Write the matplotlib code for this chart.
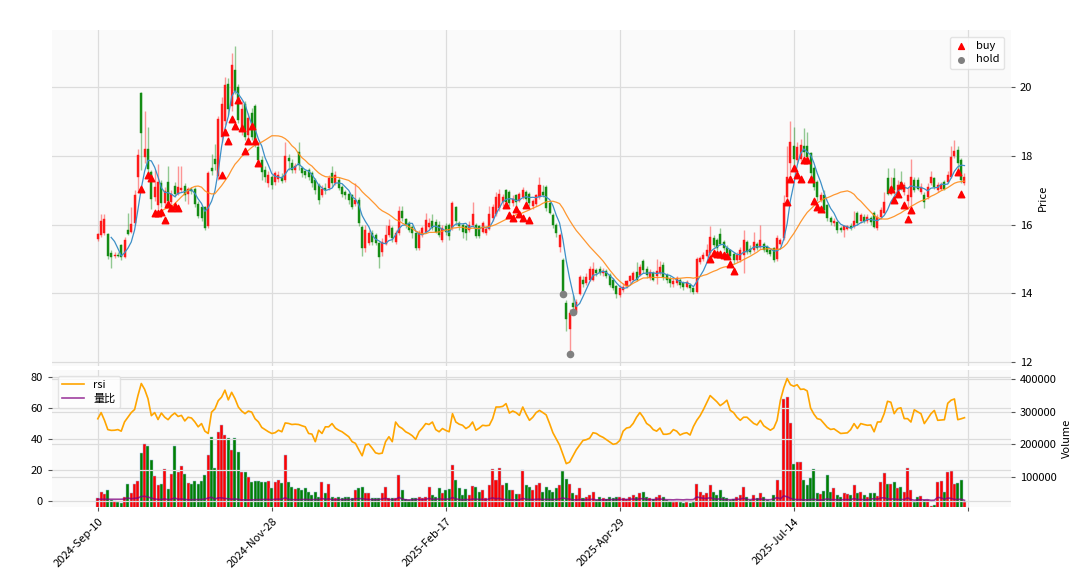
import matplotlib
matplotlib.use('Agg')
import matplotlib.pyplot as plt
import numpy as np
import pandas as pd
from matplotlib.ticker import ScalarFormatter

plt.rcParams['font.family'] = ['Noto Sans CJK SC', 'DejaVu Sans']
plt.rcParams['axes.unicode_minus'] = False

tick_pos = [0, 52, 104, 156, 208, 260]
tick_labels = ['2024-Sep-10', '2024-Nov-28', '2025-Feb-17', '2025-Apr-29', '2025-Jul-14', '']

opens = [
    15.57, 15.70, 15.76, 15.72, 15.17, 15.10, 15.13, 15.40, 15.07, 15.85,
    15.80, 16.04, 17.39, 19.83, 17.97, 18.20, 17.54, 16.80, 16.57, 17.22,
    16.62, 17.25, 16.66, 17.12, 16.88, 17.00, 17.12, 16.88, 17.05, 17.05,
    16.60, 16.50, 16.50, 15.95, 17.65, 17.90, 17.42, 18.55, 19.00, 20.10,
    19.45, 20.50, 20.00, 18.80, 19.50, 18.60, 19.25, 19.45, 18.27, 17.88,
    17.60, 17.20, 17.39, 17.25, 17.33, 17.40, 17.30, 17.95, 17.80, 17.60,
    18.12, 17.65, 17.55, 17.59, 17.49, 17.30, 17.15, 16.85, 17.08, 17.06,
    17.50, 17.22, 17.30, 17.10, 16.95, 16.90, 16.86, 16.60, 16.73, 15.92,
    15.31, 15.47, 15.75, 15.70, 15.46, 15.20, 15.45, 15.70, 15.90, 15.50,
    15.75, 16.40, 16.15, 16.05, 15.94, 15.75, 15.31, 15.70, 15.80, 15.93,
    16.12, 16.08, 15.98, 15.55, 15.95, 16.00, 15.90, 16.50, 16.05, 16.00,
    15.95, 15.85, 16.00, 16.00, 15.95, 15.80, 15.75, 15.88, 16.20, 16.30,
    16.47, 16.66, 17.00, 16.95, 16.62, 16.85, 16.70, 16.80, 16.95, 16.90,
    16.55, 16.60, 16.80, 16.95, 17.10, 16.63, 16.28, 16.00, 15.36, 14.97,
    13.71, 12.98, 13.71, 13.46, 13.99, 14.40, 14.30, 14.40, 14.40, 14.67,
    14.70, 14.58, 14.64, 14.55, 14.40, 14.21, 13.95, 14.10, 14.22, 14.35,
    14.40, 14.62, 14.55, 14.95, 14.72, 14.45, 14.58, 14.52, 14.60, 14.83,
    14.53, 14.43, 14.28, 14.30, 14.38, 14.30, 14.20, 14.24, 14.15, 14.03,
    14.92, 15.00, 15.10, 15.17, 15.61, 15.55, 15.74, 15.50, 15.32, 15.26,
    15.16, 14.98, 14.98, 15.12, 15.50, 15.30, 15.27, 15.45, 15.36, 15.45,
    15.36, 15.26, 15.31, 14.99, 15.45, 15.60, 16.80, 17.78, 18.30, 17.88,
    17.90, 18.28, 18.30, 18.07, 17.64, 17.25, 16.72, 16.86, 16.57, 16.19,
    16.05, 16.07, 15.90, 15.85, 15.88, 15.97, 15.95, 16.33, 16.12, 16.23,
    16.12, 16.18, 16.33, 15.89, 16.22, 16.33, 17.35, 16.90, 17.35, 16.95,
    17.25, 16.95, 16.70, 16.80, 17.30, 17.30, 16.95, 16.86, 16.81, 17.20,
    17.35, 17.00, 17.05, 17.25, 17.25, 17.39, 18.00, 18.17, 17.88, 17.20,
]

highs = [
    15.75, 16.30, 16.32, 15.75, 15.25, 15.20, 15.20, 15.45, 15.65, 16.33,
    16.50, 17.00, 18.20, 19.87, 19.30, 18.85, 17.60, 17.60, 17.75, 17.30,
    17.10, 17.70, 17.00, 17.25, 17.70, 17.70, 17.20, 17.10, 17.10, 17.10,
    16.70, 16.55, 16.55, 17.55, 18.05, 18.35, 19.15, 19.70, 20.30, 20.25,
    21.00, 21.20, 20.10, 19.60, 19.60, 19.25, 19.40, 19.50, 18.40, 18.00,
    17.70, 17.55, 17.45, 17.55, 17.55, 17.50, 18.40, 18.05, 17.90, 17.80,
    18.40, 17.70, 17.60, 17.65, 17.55, 17.35, 17.20, 17.15, 17.20, 17.45,
    17.70, 17.55, 17.40, 17.15, 17.00, 16.95, 16.90, 17.20, 16.80, 16.00,
    16.00, 15.85, 15.85, 15.75, 15.50, 15.60, 16.00, 16.15, 15.95, 15.85,
    16.55, 16.55, 16.20, 16.10, 16.00, 15.80, 15.85, 15.95, 16.35, 16.20,
    16.30, 16.15, 16.10, 16.00, 16.05, 16.05, 16.70, 16.55, 16.10, 16.05,
    16.00, 16.10, 16.66, 16.05, 16.00, 16.10, 15.95, 16.55, 16.60, 16.95,
    17.05, 16.90, 17.05, 17.00, 16.85, 16.90, 16.95, 17.10, 17.00, 16.95,
    16.75, 16.90, 17.39, 17.15, 17.15, 16.70, 16.35, 16.05, 15.75, 15.02,
    13.80, 13.55, 13.95, 13.85, 14.55, 14.50, 14.60, 14.80, 14.90, 14.75,
    14.80, 14.75, 14.70, 14.60, 14.45, 14.25, 14.25, 14.30, 14.40, 14.55,
    14.65, 14.90, 14.85, 15.00, 14.80, 14.70, 14.65, 15.00, 14.95, 14.90,
    14.60, 14.50, 14.45, 14.50, 14.45, 14.35, 14.40, 14.30, 14.20, 15.05,
    15.10, 15.20, 15.45, 15.95, 15.70, 15.60, 15.90, 15.55, 15.40, 15.30,
    15.20, 15.20, 15.35, 15.85, 15.55, 15.40, 15.80, 15.50, 16.00, 15.50,
    15.40, 15.30, 15.35, 15.70, 15.62, 16.85, 18.30, 19.00, 18.85, 18.40,
    18.50, 18.80, 18.70, 18.10, 17.70, 17.30, 16.95, 17.00, 16.60, 16.25,
    16.20, 16.10, 15.95, 16.00, 16.00, 16.05, 16.40, 16.40, 16.35, 16.30,
    16.30, 16.25, 16.40, 16.30, 16.50, 16.95, 17.65, 17.40, 17.65, 17.30,
    17.55, 17.25, 17.10, 17.90, 17.40, 17.40, 17.20, 16.95, 17.20, 17.55,
    17.40, 17.25, 17.25, 17.30, 17.55, 18.30, 18.45, 18.30, 17.95, 17.50,
]

lows = [
    15.52, 15.65, 15.70, 15.00, 14.75, 15.04, 15.05, 14.98, 15.03, 15.70,
    15.75, 16.00, 16.95, 17.60, 17.80, 17.40, 16.45, 16.70, 16.45, 16.50,
    16.55, 16.60, 16.60, 16.80, 16.85, 16.95, 16.70, 16.60, 16.90, 16.50,
    16.20, 16.10, 15.85, 15.90, 17.45, 17.60, 17.30, 18.40, 18.90, 19.20,
    19.30, 19.80, 18.95, 18.60, 18.45, 18.50, 18.45, 18.25, 17.70, 17.30,
    17.25, 17.10, 17.05, 17.15, 17.25, 17.20, 17.25, 17.60, 17.50, 17.50,
    17.60, 17.40, 17.35, 17.30, 17.10, 16.90, 16.60, 16.80, 16.90, 17.00,
    17.10, 17.15, 17.00, 16.80, 16.75, 16.60, 16.45, 16.55, 15.95, 15.10,
    15.20, 15.40, 15.40, 15.40, 14.75, 15.10, 15.40, 15.65, 15.50, 15.45,
    15.70, 16.10, 15.90, 15.80, 15.60, 15.25, 15.25, 15.65, 15.75, 15.85,
    15.85, 15.75, 15.65, 15.50, 15.70, 15.55, 15.85, 16.00, 15.85, 15.60,
    15.55, 15.80, 15.95, 15.60, 15.60, 15.75, 15.70, 15.85, 16.10, 16.25,
    16.40, 16.55, 16.60, 16.55, 16.55, 16.55, 16.65, 16.75, 16.70, 16.55,
    16.45, 16.55, 16.75, 16.80, 16.40, 16.30, 15.90, 15.65, 15.20, 13.92,
    12.90, 12.30, 13.45, 13.40, 13.95, 14.20, 14.25, 14.35, 14.35, 14.50,
    14.55, 14.50, 14.45, 14.20, 14.10, 13.88, 13.90, 14.05, 14.15, 14.30,
    14.35, 14.35, 14.50, 14.60, 14.45, 14.40, 14.35, 14.28, 14.55, 14.40,
    14.30, 14.20, 14.20, 14.25, 14.15, 14.10, 14.15, 14.05, 13.98, 14.00,
    14.85, 14.95, 15.05, 15.10, 15.35, 15.25, 15.40, 15.25, 15.10, 15.00,
    14.85, 14.90, 14.90, 14.60, 15.15, 15.15, 15.20, 15.25, 15.30, 15.20,
    15.15, 15.10, 14.90, 14.95, 15.40, 15.55, 16.70, 17.45, 17.60, 17.80,
    17.85, 18.00, 17.90, 17.40, 17.00, 16.70, 16.65, 16.35, 16.10, 16.00,
    15.95, 15.75, 15.78, 15.63, 15.85, 15.85, 15.90, 16.00, 16.05, 16.05,
    16.05, 16.00, 15.90, 15.85, 16.15, 16.30, 16.85, 16.85, 16.90, 16.90,
    17.00, 16.85, 16.45, 16.50, 16.95, 17.00, 16.90, 16.48, 16.75, 17.15,
    17.05, 16.95, 17.00, 17.00, 17.20, 17.35, 17.95, 17.50, 17.20, 17.15,
]

closes = [
    15.72, 16.12, 16.15, 15.09, 15.07, 15.13, 15.11, 15.05, 15.55, 15.74,
    16.03, 16.86, 18.02, 18.66, 18.20, 17.63, 16.76, 17.10, 17.25, 16.62,
    16.97, 16.70, 16.90, 16.88, 17.10, 17.08, 16.85, 17.05, 16.98, 16.60,
    16.25, 16.20, 15.90, 17.50, 17.55, 17.75, 19.08, 19.50, 20.05, 19.35,
    20.65, 19.90, 19.05, 19.35, 18.55, 19.10, 18.55, 18.36, 17.88, 17.54,
    17.40, 17.45, 17.14, 17.49, 17.45, 17.26, 18.00, 17.85, 17.60, 17.70,
    17.73, 17.50, 17.45, 17.40, 17.20, 17.00, 16.71, 17.05, 17.00, 17.35,
    17.20, 17.45, 17.06, 16.90, 16.85, 16.72, 16.52, 16.72, 16.05, 15.31,
    15.84, 15.77, 15.50, 15.47, 15.07, 15.50, 15.70, 15.95, 15.60, 15.75,
    16.41, 16.20, 15.98, 15.85, 15.75, 15.31, 15.75, 15.90, 16.13, 16.05,
    15.90, 15.80, 15.70, 15.90, 15.80, 15.66, 16.62, 16.10, 15.95, 15.78,
    15.75, 16.00, 16.30, 15.66, 15.66, 16.05, 15.88, 16.32, 16.50, 16.80,
    16.90, 16.80, 16.66, 16.62, 16.75, 16.66, 16.90, 17.00, 16.76, 16.62,
    16.70, 16.85, 17.15, 16.85, 16.47, 16.34, 15.98, 15.75, 15.70, 14.05,
    13.27, 13.42, 13.61, 13.75, 14.48, 14.28, 14.48, 14.70, 14.70, 14.58,
    14.60, 14.66, 14.50, 14.25, 14.15, 13.97, 14.15, 14.20, 14.35, 14.50,
    14.58, 14.40, 14.77, 14.67, 14.53, 14.63, 14.40, 14.66, 14.78, 14.48,
    14.40, 14.30, 14.36, 14.44, 14.24, 14.20, 14.33, 14.15, 14.05, 14.99,
    15.02, 15.12, 15.26, 15.65, 15.40, 15.32, 15.45, 15.32, 15.18, 15.08,
    14.98, 15.12, 15.27, 15.55, 15.21, 15.21, 15.50, 15.31, 15.55, 15.27,
    15.21, 15.16, 14.97, 15.60, 15.55, 16.62, 17.40, 18.41, 17.90, 18.27,
    18.33, 18.10, 17.97, 17.49, 17.10, 16.81, 16.86, 16.42, 16.19, 16.09,
    16.12, 15.83, 15.84, 15.95, 15.95, 15.90, 16.12, 16.04, 16.27, 16.12,
    16.23, 16.08, 15.94, 16.22, 16.42, 16.67, 16.90, 17.10, 17.00, 17.15,
    17.10, 17.15, 16.85, 17.40, 17.00, 17.05, 17.10, 16.67, 17.10, 17.39,
    17.10, 17.15, 17.15, 17.05, 17.45, 17.97, 18.15, 17.78, 17.30, 17.39,
]

volumes = [
    34900, 55100, 47100, 60300, 29700, 26600, 22600, 19600, 39800, 77800,
    52000, 77800, 87900, 174500, 200200, 195000, 152100, 103200, 75600, 77800,
    123700, 62400, 109300, 195000, 114500, 133800, 108400, 80800, 77800, 87900,
    77800, 87900, 106200, 167400, 223500, 128600, 238800, 259300, 228700, 218600,
    182700, 218600, 177500, 116300, 116300, 101000, 85700, 87900, 89400, 85700,
    84700, 88000, 65500, 85700, 90000, 80800, 167400, 85700, 70400, 62400,
    65500, 60300, 65500, 55100, 45000, 55100, 39800, 84700, 52000, 77800,
    39800, 36800, 39800, 34900, 39800, 39800, 34900, 60300, 65500, 68500,
    52000, 52000, 34900, 34900, 34900, 52000, 70400, 34900, 34900, 34900,
    106200, 60300, 31800, 29700, 34900, 36800, 39800, 34900, 39800, 69500,
    45000, 39800, 65500, 52000, 60300, 62400, 136800, 90000, 65500, 45000,
    62400, 45000, 73400, 70400, 55100, 60300, 34900, 75600, 123700, 91900,
    128600, 75600, 80800, 60300, 60300, 49000, 49000, 121600, 75600, 70400,
    60000, 75000, 82000, 55000, 70000, 60000, 55000, 65000, 75000, 120000,
    95000, 80000, 50000, 45000, 65000, 35000, 40000, 45000, 55000, 30000,
    38000, 35000, 32000, 40000, 35000, 38000, 40000, 35000, 32000, 40000,
    45000, 38000, 50000, 55000, 40000, 35000, 32000, 40000, 45000, 38000,
    30000, 28000, 25000, 28000, 25000, 22000, 25000, 22000, 24000, 80000,
    55000, 45000, 50000, 75000, 55000, 45000, 60000, 40000, 35000, 30000,
    32000, 40000, 45000, 70000, 40000, 30000, 45000, 35000, 50000, 38000,
    30000, 28000, 45000, 90000, 60000, 340000, 345000, 265000, 140000, 145000,
    147000, 91000, 75600, 96100, 123700, 50200, 47100, 57200, 106200, 55100,
    65500, 45000, 40000, 50000, 48000, 45000, 75600, 50000, 55000, 45000,
    40000, 50000, 52000, 41900, 85700, 111400, 77800, 77800, 85700, 65500,
    70400, 55100, 128600, 60300, 24500, 39800, 40700, 29700, 29700, 12000,
    15000, 85700, 89400, 55100, 115000, 120000, 80000, 82000, 90000, 25000,
]

rsi = [
    53, 57, 52, 46, 45.5, 45.6, 46, 45, 51, 54,
    57, 59, 68, 75.8, 72, 66, 55, 57, 52.5, 56.7,
    54, 52.4, 55, 56.7, 54.5, 55.2, 51.6, 54, 53.5, 51,
    47.8, 49.9, 45, 43.5, 57.3, 59.4, 64.7, 67, 71.5, 65.2,
    70.1, 66, 60.6, 58, 56.3, 58, 57.3, 53, 51, 47.4,
    46, 44.6, 43.5, 44, 45.6, 44.6, 50.3, 50, 49.3, 49.5,
    49.3, 48.5, 47.8, 43.5, 43.1, 38.2, 45.6, 43.5, 47.8, 47.8,
    49.9, 47, 45.6, 44.6, 43, 41.4, 38.2, 37.1, 33, 29.1,
    36.1, 36.7, 34, 31, 30.4, 30.8, 38.2, 41.4, 38.2, 50.9,
    48, 46.7, 44.6, 43.5, 42, 39.7, 44.6, 47, 49.9, 49.3,
    50.9, 46, 44.6, 46.7, 45.5, 44.6, 56.3, 50.9, 49.5, 48.8,
    46.7, 48, 50.9, 45.6, 47, 48.8, 48.5, 48.8, 53.1, 60.6,
    60.6, 61, 62.8, 56.7, 58, 57, 55.2, 60.6, 56, 52,
    54, 57, 58.4, 57, 55.5, 50, 44, 40, 36, 30,
    24, 25, 29, 33, 36, 39, 39.5, 40.5, 44, 43.5,
    42, 41, 39.5, 38, 36.5, 37, 39, 45, 47, 47.5,
    50, 54, 57, 54, 50, 48.5, 46, 45, 47, 43,
    43, 43.5, 46, 45, 42.5, 43.5, 44, 42.5, 48, 52,
    55, 59, 63.5, 68, 66, 64, 61.5, 63, 65, 58.4,
    57, 54, 52, 54, 54, 52, 50, 49, 52, 48.5,
    47, 45.6, 47, 52, 65, 73, 79, 75, 74, 75,
    72, 72.2, 71, 60, 56, 53.1, 52.5, 50, 47.5, 46.1,
    46.5, 45, 43.5, 43.7, 43.9, 46, 49.9, 46.7, 49.9, 49.3,
    48.8, 49, 44.6, 50.9, 51, 56.3, 64.3, 63.7, 56.3, 59.5,
    60.1, 53.1, 53.1, 50.9, 58.8, 57.5, 56.3, 49.9, 53, 56.3,
    58.4, 52, 52.2, 52.4, 63, 65, 65.8, 52.4, 53, 53.7,
]

vol_ratio = [
    1.0, 1.0, 1.0, 1.0, 1.0, 1.0, 1.0, 1.0, 1.2, 1.8,
    1.3, 1.6, 1.8, 2.8, 2.9, 2.4, 1.7, 1.2, 0.9, 0.9,
    1.3, 0.7, 1.1, 1.8, 1.0, 1.2, 0.9, 0.7, 0.7, 0.8,
    0.8, 0.9, 1.1, 1.8, 2.3, 1.1, 1.9, 1.9, 1.5, 1.3,
    1.0, 1.2, 0.9, 0.6, 0.6, 0.6, 0.6, 0.7, 0.8, 0.8,
    0.9, 0.9, 0.7, 1.0, 1.1, 1.0, 2.0, 0.9, 0.8, 0.7,
    0.8, 0.8, 0.9, 0.8, 0.7, 0.9, 0.7, 1.5, 0.9, 1.3,
    0.7, 0.7, 0.8, 0.7, 0.8, 0.9, 0.8, 1.4, 1.4, 1.4,
    1.0, 0.9, 0.7, 0.7, 0.8, 1.2, 1.6, 0.8, 0.8, 0.8,
    2.2, 1.1, 0.6, 0.6, 0.7, 0.8, 0.9, 0.8, 0.9, 1.6,
    1.0, 0.9, 1.3, 1.0, 1.1, 1.1, 2.1, 1.2, 0.9, 0.6,
    0.9, 0.7, 1.1, 1.1, 0.9, 1.0, 0.6, 1.3, 1.9, 1.3,
    1.6, 0.9, 0.9, 0.7, 0.7, 0.6, 0.7, 1.6, 1.0, 0.9,
    0.8, 1.0, 1.1, 0.8, 1.0, 0.9, 0.8, 1.0, 1.2, 1.8,
    1.3, 1.1, 0.7, 0.6, 0.9, 0.6, 0.7, 0.8, 1.0, 0.6,
    0.6, 0.6, 0.6, 0.8, 0.7, 0.8, 0.9, 0.8, 0.8, 1.0,
    1.2, 0.9, 1.3, 1.4, 0.9, 0.8, 0.7, 1.0, 1.2, 0.9,
    0.7, 0.7, 0.6, 0.8, 0.7, 0.6, 0.8, 0.7, 0.8, 2.5,
    2.0, 1.6, 1.5, 2.0, 1.3, 1.0, 1.3, 0.8, 0.7, 0.7,
    0.8, 1.0, 1.1, 1.7, 0.9, 0.7, 1.1, 0.9, 1.2, 0.9,
    0.7, 0.7, 1.2, 2.1, 1.3, 3.2, 2.6, 1.6, 0.9, 0.8,
    0.8, 0.6, 0.6, 0.8, 1.1, 0.5, 0.5, 0.7, 1.3, 0.7,
    0.8, 0.7, 0.6, 0.8, 0.8, 0.7, 1.5, 0.8, 0.9, 0.7,
    0.6, 1.1, 1.4, 1.0, 1.8, 2.0, 1.2, 1.1, 1.2, 0.9,
    0.9, 0.8, 1.9, 0.8, 0.4, 0.6, 0.7, 0.6, 0.7, 0.3,
    0.4, 2.2, 1.9, 1.0, 1.8, 1.6, 0.9, 0.9, 1.0, 0.3,
]

buy_idx = [13, 15, 16, 17, 18, 19, 20, 21, 22, 23, 24,
           37, 38, 39, 40, 41, 42, 43, 44, 45, 46, 47, 48,
           122, 123, 124, 125, 126, 127, 128, 129,
           183, 184, 185, 186, 187, 188, 189, 190,
           206, 207, 208, 209, 210, 211, 212, 213, 214, 215, 216,
           237, 238, 239, 240, 241, 242, 243, 257, 258]
buy_price = [17.05, 17.44, 17.35, 16.33, 16.35, 16.38, 16.13, 16.59, 16.47, 16.55, 16.49,
             17.44, 18.70, 18.44, 19.06, 18.87, 19.62, 18.82, 18.14, 18.43, 18.88, 18.43, 17.80,
             16.57, 16.28, 16.18, 16.45, 16.30, 16.20, 16.57, 16.14,
             15.01, 15.19, 15.16, 15.16, 15.12, 15.08, 14.87, 14.65,
             16.65, 17.33, 17.64, 17.44, 17.34, 17.88, 17.88, 17.34, 16.70, 16.52, 16.45,
             17.03, 16.71, 16.90, 17.15, 16.57, 16.15, 16.44, 17.54, 16.89]
hold_idx = [139, 141, 142]
hold_price = [13.97, 12.23, 13.46]

df = pd.DataFrame({'open': opens, 'high': highs, 'low': lows,
                   'close': closes, 'volume': volumes})
x = np.arange(len(df))
ma5 = df['close'].rolling(5).mean()
ma20 = df['close'].rolling(20).mean()

up_c, down_c = '#ff1a1a', '#148c14'
up = df['close'] >= df['open']
cols = np.where(up, up_c, down_c)
vcols = np.where(up, '#ff0000', '#008000')

bg = '#fafafa'
grid_c = '#dcdcdc'

fig = plt.figure(figsize=(10.8, 5.76), dpi=100)
ax = fig.add_axes([0.0481, 0.3646, 0.888, 0.5833])
axv = fig.add_axes([0.0481, 0.1198, 0.888, 0.2378], sharex=ax)
axr = axv.twinx()

for a in (ax, axv):
    a.set_facecolor(bg)
    a.grid(True, color=grid_c, lw=0.9)
    a.set_axisbelow(True)
for a in (ax, axv, axr):
    for s in a.spines.values():
        s.set_visible(False)

# candles
ax.vlines(x, df['low'], df['high'], colors=cols, lw=1.0, alpha=0.45, zorder=2)
body = (df['close'] - df['open']).values
body = np.where(np.abs(body) < 0.03, 0.03 * np.sign(body + 1e-9), body)
ax.bar(x, body, bottom=df['open'], width=0.6, color=cols, edgecolor=cols,
       lw=0.3, zorder=3)

ax.plot(x, ma5, color='#3d8fc7', lw=0.9, zorder=4)
ax.plot(x, ma20, color='#ff8c1a', lw=0.9, alpha=0.9, zorder=4)

ax.scatter(buy_idx, buy_price, marker='^', s=22, color='red', zorder=5, label='buy')
ax.scatter(hold_idx, hold_price, marker='o', s=20, color='#808080', zorder=5, label='hold')
ax.legend(loc='upper right', fontsize=8, frameon=True, facecolor='white',
          edgecolor='#dddddd', borderpad=0.4, labelspacing=0.3,
          handlelength=1.2, handletextpad=0.8, markerscale=0.9,
          borderaxespad=0.6)

ax.set_xlim(-13.7, 272.9)
ax.set_ylim(11.89, 21.66)
ax.yaxis.tick_right()
ax.yaxis.set_label_position('right')
ax.set_yticks([12, 14, 16, 18, 20])
ax.set_ylabel('Price', fontsize=8)
ax.tick_params(axis='y', labelsize=8, length=3, color='#555555')
ax.tick_params(axis='x', labelbottom=False, length=0)
ax.set_xticks(tick_pos)

# volume panel
axv.bar(x, volumes, width=0.9, color=vcols, edgecolor='#9dbfe0', lw=0.35, zorder=2)
axv.set_ylim(8300, 427600)
axv.yaxis.tick_right()
axv.yaxis.set_label_position('right')
axv.set_yticks([100000, 200000, 300000, 400000])
fmt = ScalarFormatter(useOffset=False)
fmt.set_scientific(False)
axv.yaxis.set_major_formatter(fmt)
axv.set_ylabel('Volume', fontsize=8)
axv.tick_params(axis='y', labelsize=8, length=3, color='#555555')
axv.set_xticks(tick_pos)
axv.set_xticklabels(tick_labels, rotation=45, ha='right', rotation_mode='anchor', fontsize=8)
axv.tick_params(axis='x', length=3, color='#555555')

axr.plot(x, rsi, color='orange', lw=1.2, label='rsi')
axr.plot(x, vol_ratio, color='purple', lw=1.2, alpha=0.75, label='量比')
axr.set_ylim(-4.0, 84.5)
axr.yaxis.tick_left()
axr.yaxis.set_label_position('left')
axr.set_yticks([0, 20, 40, 60, 80])
axr.tick_params(axis='y', labelsize=8, length=3, color='#555555')
axr.grid(True, axis='y', color=grid_c, lw=0.9)
axr.legend(loc='upper left', fontsize=8, frameon=True, facecolor='white',
           edgecolor='#dddddd', borderpad=0.4, labelspacing=0.3)

fig.savefig('out.png', dpi=100)
